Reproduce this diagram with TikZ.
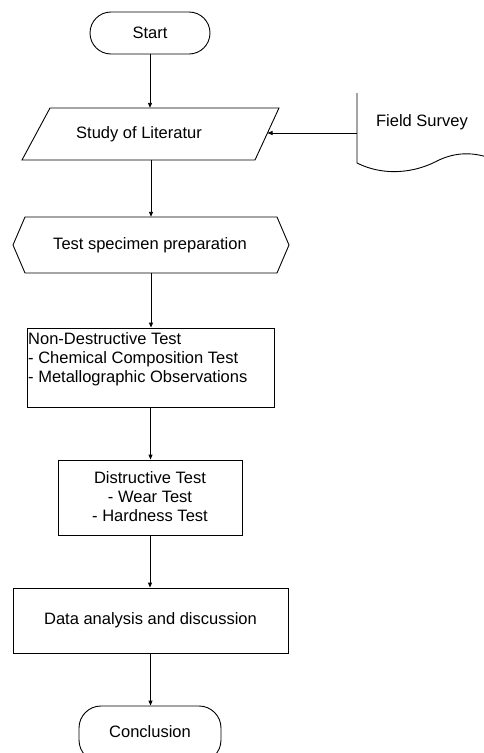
\documentclass[tikz,border=0pt]{standalone}
\usepackage{fontspec}
\setmainfont{Liberation Sans}
\usetikzlibrary{arrows.meta}
\begin{document}
\begin{tikzpicture}[x=1pt,y=-1pt,
  every node/.style={font=\fontsize{16.5}{19}\selectfont, inner sep=0pt},
  shp/.style={draw=black, line width=0.9pt},
  conn/.style={draw=black, line width=0.9pt, -{Triangle[length=5pt,width=4pt]}},
  boxn/.style={shp, rectangle, anchor=north west}]
\useasboundingbox (0,0) rectangle (484,753);
\clip (0,0) rectangle (484,753);
% Start
\node[shp, rounded corners=21pt, minimum width=120pt, minimum height=42pt] (start) at (150,33) {Start};
% Study of Literatur (parallelogram)
\node[minimum width=206pt, minimum height=52pt] (study) at (151,134) {};
\draw[shp] (50,108) -- (279,108) -- (255,160) -- (22,160) -- cycle;
\node at (139,134) {Study of Literatur};
\coordinate (studyR) at (267.5,133);
% Field Survey (document)
\node[anchor=west, minimum height=40pt, minimum width=120pt] (field) at (357,133) {};
\draw[shp] (357,93) -- (357,163) .. controls (385,177) and (415,172) .. (435,162) .. controls (452,153) and (470,151) .. (490,158);
\node at (422,122) {Field Survey};
% Hexagon
\node[minimum width=276pt, minimum height=56pt] (prep) at (151,245) {};
\draw[shp] (25,217) -- (277,217) -- (289,245) -- (277,273) -- (25,273) -- (13,245) -- cycle;
\node at (150,245) {Test specimen preparation};
% Non-destructive test
\node[shp, minimum width=247pt, minimum height=79pt] (ndt) at (150.5,367.5) {};
\node[anchor=north west, align=left] at (28,332) {Non-Destructive Test\\- Chemical Composition Test\\- Metallographic Observations};
% Destructive test
\node[shp, minimum width=184pt, minimum height=75pt] (dt) at (150,497.5) {};
\node[align=center] at (150,497) {Distructive Test\\- Wear Test\\- Hardness Test};
% Data analysis
\node[shp, minimum width=275pt, minimum height=65pt] (data) at (150.5,620.5) {Data analysis and discussion};
% Conclusion
\node[shp, rounded corners=22pt, minimum width=142pt, minimum height=56pt] (concl) at (150,734) {};
\node at (150,732) {Conclusion};
% connectors
\draw[conn] (start.south) -- (start.south |- study.north);
\draw[conn] (field.west) -- (studyR);
\draw[conn] (study.south) -- (study.south |- prep.north);
\draw[conn] (prep.south) -- (prep.south |- ndt.north);
\draw[conn] (ndt.south) -- (ndt.south |- dt.north);
\draw[conn] (dt.south) -- (dt.south |- data.north);
\draw[conn] (data.south) -- (data.south |- concl.north);
\end{tikzpicture}
\end{document}
